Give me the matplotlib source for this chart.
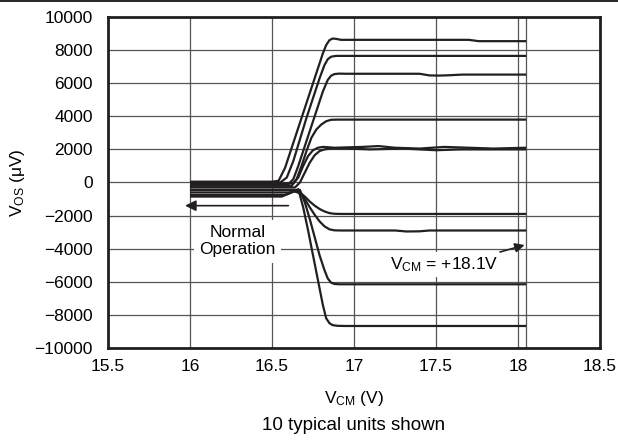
import matplotlib
matplotlib.use("Agg")
import matplotlib.pyplot as plt
from matplotlib.lines import Line2D

plt.rcParams['font.family'] = ['Liberation Sans', 'DejaVu Sans']
plt.rcParams['mathtext.fontset'] = 'custom'
plt.rcParams['mathtext.rm'] = 'Liberation Sans'
plt.rcParams['mathtext.it'] = 'Liberation Sans:italic'

# 10 typical units, V_CM (V) vs V_OS (uV)
vcm_u1 = [16.00, 16.50, 16.54, 16.58, 16.62, 16.66, 16.70, 16.74, 16.78, 16.81, 16.83, 16.85, 16.87, 16.89, 16.92, 16.96, 17.70, 17.76, 18.05]
vos_u1 = [50, 50, 100, 900, 2100, 3300, 4500, 5700, 6900, 7800, 8300, 8600, 8700, 8680, 8620, 8620, 8620, 8540, 8540]

vcm_u2 = [16.00, 16.55, 16.59, 16.63, 16.67, 16.71, 16.75, 16.79, 16.82, 16.84, 16.86, 16.89, 16.93, 18.05]
vos_u2 = [0, 0, 300, 1300, 2600, 3900, 5100, 6300, 7100, 7450, 7600, 7650, 7650, 7650]

vcm_u3 = [16.00, 16.60, 16.63, 16.66, 16.70, 16.74, 16.78, 16.81, 16.84, 16.86, 16.88, 16.91, 16.95, 17.40, 17.46, 17.52, 17.58, 17.66, 18.05]
vos_u3 = [-100, -100, 200, 1000, 2200, 3400, 4600, 5500, 6200, 6450, 6550, 6580, 6570, 6570, 6470, 6460, 6480, 6520, 6520]

vcm_u4 = [16.00, 16.62, 16.65, 16.68, 16.71, 16.74, 16.77, 16.80, 16.83, 16.86, 16.90, 18.05]
vos_u4 = [-200, -200, 200, 1000, 1900, 2700, 3200, 3500, 3700, 3790, 3800, 3800]

vcm_u5 = [16.00, 16.63, 16.66, 16.69, 16.72, 16.75, 16.78, 16.81, 16.84, 16.88, 17.05, 17.15, 17.25, 17.40, 17.55, 17.70, 17.85, 18.05]
vos_u5 = [-50, -50, 300, 1000, 1600, 1950, 2100, 2150, 2130, 2100, 2150, 2200, 2100, 2050, 2150, 2100, 2050, 2100]

vcm_u6 = [16.00, 16.64, 16.67, 16.70, 16.73, 16.76, 16.79, 16.82, 16.86, 16.95, 17.10, 17.30, 17.50, 17.65, 18.05]
vos_u6 = [-300, -300, 0, 600, 1200, 1650, 1900, 2000, 2050, 2050, 2000, 2050, 1950, 2000, 2000]

vcm_u7 = [16.00, 16.60, 16.64, 16.67, 16.70, 16.73, 16.76, 16.79, 16.82, 16.85, 16.88, 16.92, 18.05]
vos_u7 = [-450, -450, -450, -600, -850, -1150, -1400, -1600, -1750, -1850, -1890, -1900, -1900]

vcm_u8 = [16.00, 16.60, 16.64, 16.67, 16.70, 16.73, 16.76, 16.79, 16.82, 16.85, 16.88, 16.92, 17.25, 17.32, 17.40, 17.46, 18.05]
vos_u8 = [-600, -600, -550, -650, -1000, -1500, -1950, -2350, -2650, -2830, -2890, -2900, -2900, -2960, -2950, -2900, -2900]

vcm_u9 = [16.00, 16.58, 16.64, 16.67, 16.70, 16.73, 16.76, 16.79, 16.82, 16.84, 16.86, 16.88, 16.91, 18.05]
vos_u9 = [-750, -750, -500, -450, -1200, -2200, -3300, -4400, -5300, -5800, -6050, -6130, -6150, -6150]

vcm_u10 = [16.00, 16.56, 16.62, 16.66, 16.69, 16.72, 16.75, 16.78, 16.81, 16.83, 16.85, 16.87, 16.90, 16.95, 18.05]
vos_u10 = [-850, -850, -600, -400, -1500, -2900, -4400, -5900, -7400, -8200, -8500, -8620, -8660, -8670, -8670]

units = [(vcm_u1, vos_u1), (vcm_u2, vos_u2), (vcm_u3, vos_u3), (vcm_u4, vos_u4), (vcm_u5, vos_u5),
         (vcm_u6, vos_u6), (vcm_u7, vos_u7), (vcm_u8, vos_u8), (vcm_u9, vos_u9), (vcm_u10, vos_u10)]

x_ticks = [15.5, 16, 16.5, 17, 17.5, 18, 18.5]
x_ticklabels = ['15.5', '16', '16.5', '17', '17.5', '18', '18.5']
y_ticks = [-10000, -8000, -6000, -4000, -2000, 0, 2000, 4000, 6000, 8000, 10000]

line_col = '#231f20'
grid_col = '#555555'

fig = plt.figure(figsize=(6.18, 4.45), dpi=100)
ax = fig.add_axes([0.1748, 0.2180, 0.7961, 0.7438])

for vx, vy in units:
    ax.plot(vx, vy, color=line_col, lw=1.6, zorder=4, solid_capstyle='butt')

ax.set_xlim(15.5, 18.5)
ax.set_ylim(-10000, 10000)
ax.set_xticks(x_ticks)
ax.set_xticklabels(x_ticklabels)
ax.set_yticks(y_ticks)
ax.grid(True, color=grid_col, lw=0.9)
ax.set_axisbelow(True)
ax.axvline(18.05, color=grid_col, lw=0.9, zorder=0.5)
ax.tick_params(length=0, labelsize=12.5)
ax.tick_params(axis='x', pad=8)
ax.tick_params(axis='y', pad=11)
for s in ax.spines.values():
    s.set_linewidth(2)
    s.set_color('#231f20')

ax.set_ylabel(r'V$_{\rm OS}$ ($\rm\mu$V)', fontsize=12.5, labelpad=5)

# Normal operation arrow and label
ax.annotate('', xy=(15.97, -1400), xytext=(16.6, -1400),
            arrowprops=dict(arrowstyle='-|>', color=line_col, lw=1.2, mutation_scale=16,
                            shrinkA=0, shrinkB=0), zorder=5)
ax.text(16.29, -3550, 'Normal\nOperation', ha='center', va='center', fontsize=12.5,
        linespacing=1.15, zorder=3,
        bbox=dict(facecolor='white', edgecolor='none', pad=4))

# V_CM = +18.1V label
ax.text(17.55, -4950, r'V$_{\rm CM}$ = +18.1V', ha='center', va='center', fontsize=12.5,
        zorder=3, bbox=dict(facecolor='white', edgecolor='none', pad=2))
ax.annotate('', xy=(18.04, -3780), xytext=(17.89, -4200),
            arrowprops=dict(arrowstyle='-|>', color=line_col, lw=1.2, mutation_scale=14,
                            shrinkA=0, shrinkB=0), zorder=5)

fig.text(0.5728, 1 - 398 / 445, r'V$_{\rm CM}$ (V)', ha='center', va='center', fontsize=12.5)
fig.text(0.5728, 1 - 425 / 445, '10 typical units shown', ha='center', va='center', fontsize=13.5)

fig.add_artist(Line2D([0, 1], [0.997, 0.997], color='black', lw=1.2))

fig.savefig('out.png', dpi=100)
